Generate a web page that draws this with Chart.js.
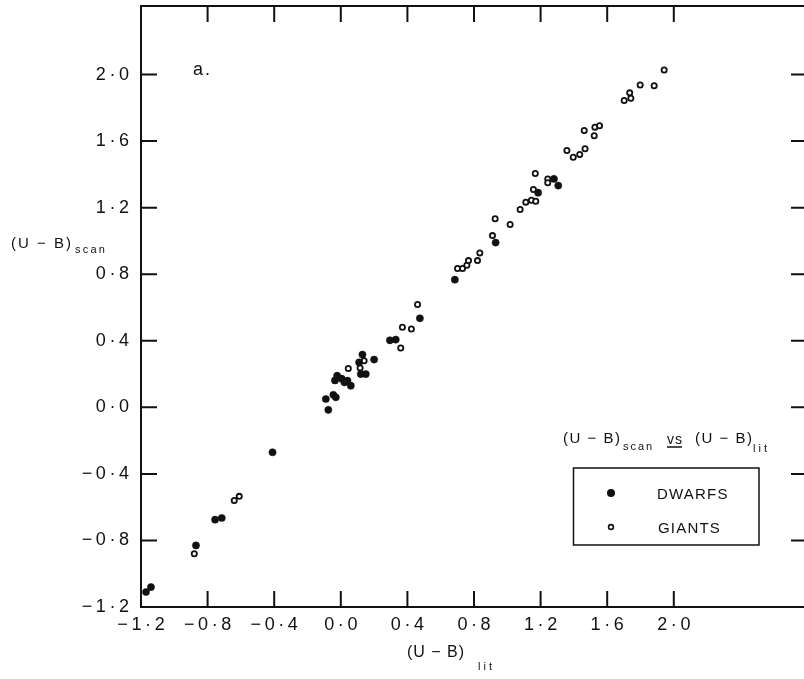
<!DOCTYPE html>
<html>
<head>
<meta charset="utf-8">
<script src="https://cdn.jsdelivr.net/npm/chart.js@4/dist/chart.umd.min.js"></script>
<style>
html,body{margin:0;padding:0;background:#fff;overflow:hidden;}
#wrap{width:820px;height:679px;}
</style>
</head>
<body>
<div id="wrap"><canvas id="c" width="820" height="679"></canvas></div>
<script>
// ---- data ----
const dwarfsLit  = [-1.17,-1.14,-0.87,-0.755,-0.715,-0.41,-0.09,-0.075,-0.045,-0.03,-0.035,-0.022,0.005,0.022,0.04,0.06,0.11,0.13,0.12,0.15,0.2,0.295,0.33,0.475,0.685,0.93,1.185,1.28,1.306];
const dwarfsScan = [-1.11,-1.08,-0.83,-0.675,-0.665,-0.27,0.05,-0.015,0.075,0.06,0.162,0.19,0.172,0.15,0.16,0.13,0.27,0.317,0.2,0.2,0.287,0.403,0.407,0.535,0.767,0.99,1.29,1.373,1.333];
const giantsLit  = [-0.88,-0.64,-0.61,0.045,0.116,0.14,0.36,0.37,0.424,0.461,0.701,0.731,0.757,0.767,0.821,0.835,0.911,0.927,1.017,1.077,1.111,1.145,1.171,1.157,1.168,1.243,1.243,1.358,1.396,1.435,1.467,1.462,1.522,1.526,1.554,1.702,1.742,1.735,1.798,1.882,1.942];
const giantsScan = [-0.88,-0.56,-0.535,0.233,0.237,0.28,0.357,0.481,0.471,0.618,0.834,0.834,0.854,0.882,0.882,0.928,1.032,1.133,1.099,1.189,1.233,1.245,1.239,1.309,1.405,1.373,1.35,1.544,1.503,1.52,1.554,1.664,1.632,1.684,1.692,1.844,1.858,1.89,1.937,1.933,2.027];
const xTickValues = [-1.2,-0.8,-0.4,0.0,0.4,0.8,1.2,1.6,2.0];
const yTickValues = [-1.2,-0.8,-0.4,0.0,0.4,0.8,1.2,1.6,2.0];
const seriesNames = ['DWARFS','GIANTS'];

const INK = '#111';
const FONT = '"Liberation Sans", Arial, sans-serif';

function fmt(v){
  const s = Math.abs(v).toFixed(1).replace('.', '\u2009\u00b7\u2009');
  return (v < 0 ? '\u2212\u2009' : '') + s;
}
const toPts = (xs, ys) => xs.map((x,i)=>({x:x, y:ys[i]}));

function txt(ctx, s, x, y, size, spacing){
  ctx.font = size + 'px ' + FONT;
  ctx.letterSpacing = (spacing||0) + 'px';
  ctx.fillText(s, x, y);
  const w = ctx.measureText(s).width;
  ctx.letterSpacing = '0px';
  return w;
}

const framePlugin = {
  id: 'frame',
  afterDraw(chart){
    const ctx = chart.ctx, a = chart.chartArea;
    const xs = chart.scales.x, ys = chart.scales.y;
    ctx.save();
    ctx.strokeStyle = INK; ctx.lineWidth = 2; ctx.lineCap = 'butt';
    ctx.strokeRect(a.left, a.top, a.right - a.left, a.bottom - a.top);
    const TL = 16;
    ctx.beginPath();
    xTickValues.forEach(v=>{
      if (v <= xs.min + 1e-9) return;
      const p = xs.getPixelForValue(v);
      ctx.moveTo(p, a.bottom); ctx.lineTo(p, a.bottom - TL);
      ctx.moveTo(p, a.top); ctx.lineTo(p, a.top + TL);
    });
    yTickValues.forEach(v=>{
      if (v <= ys.min + 1e-9) return;
      const p = ys.getPixelForValue(v);
      ctx.moveTo(a.left, p); ctx.lineTo(a.left + TL, p);
      ctx.moveTo(a.right, p); ctx.lineTo(a.right - TL, p);
    });
    ctx.stroke();

    ctx.fillStyle = INK;
    ctx.textBaseline = 'alphabetic'; ctx.textAlign = 'left';
    // axis titles
    txt(ctx, '(U \u2212 B)', 11, 248, 15, 2);
    txt(ctx, 'scan', 75, 253, 11, 2.2);
    txt(ctx, '(U \u2212 B)', 407, 657, 16, 1);
    txt(ctx, 'lit', 478, 670, 11, 3);
    // panel letter
    txt(ctx, 'a.', 193, 75, 18, 2);
    // caption
    txt(ctx, '(U \u2212 B)', 563, 443, 15, 1.5);
    txt(ctx, 'scan', 623, 450, 11, 2);
    txt(ctx, 'vs', 667, 444, 14, 1);
    ctx.lineWidth = 1.5;
    ctx.beginPath(); ctx.moveTo(667, 447); ctx.lineTo(682, 447); ctx.stroke();
    txt(ctx, '(U \u2212 B)', 695, 443, 15, 1.5);
    txt(ctx, 'lit', 753, 452, 11, 3);
    // legend box
    ctx.lineWidth = 1.5;
    ctx.strokeRect(573.5, 468, 185.5, 77);
    ctx.beginPath(); ctx.arc(611, 493, 4, 0, Math.PI*2); ctx.fill();
    ctx.beginPath(); ctx.arc(611, 527, 2.4, 0, Math.PI*2); ctx.lineWidth = 1.6; ctx.stroke();
    txt(ctx, seriesNames[0], 657, 499, 15, 1.2);
    txt(ctx, seriesNames[1], 658, 533, 15, 1.2);
    ctx.restore();
  }
};

new Chart(document.getElementById('c'), {
  type: 'scatter',
  data: {
    datasets: [
      { label: seriesNames[0], data: toPts(dwarfsLit, dwarfsScan),
        pointRadius: 3.6, pointBackgroundColor: INK, pointBorderColor: INK, pointBorderWidth: 0.5, pointHoverRadius: 3.6 },
      { label: seriesNames[1], data: toPts(giantsLit, giantsScan),
        pointRadius: 2.6, pointBackgroundColor: '#fff', pointBorderColor: INK, pointBorderWidth: 1.8, pointHoverRadius: 2.6 }
    ]
  },
  options: {
    responsive: false, animation: false, devicePixelRatio: 1,
    layout: { padding: { top: 6, right: 13, left: 0, bottom: 0 } },
    plugins: { legend: { display: false }, tooltip: { enabled: false } },
    scales: {
      x: {
        type: 'linear', min: -1.2, max: 2.8,
        afterBuildTicks: s => { s.ticks = xTickValues.map(v=>({value:v})); },
        afterFit: s => { s.height = 72; s.paddingLeft = 0; s.paddingRight = 0; },
        grid: { display: false, drawTicks: false },
        border: { display: false },
        ticks: { callback: v => fmt(v), color: INK, padding: 7, maxRotation: 0, autoSkip: false,
                 font: { family: FONT, size: 18 } }
      },
      y: {
        type: 'linear', min: -1.2, max: 2.412,
        afterBuildTicks: s => { s.ticks = yTickValues.map(v=>({value:v})); },
        afterFit: s => { s.width = 141; s.paddingTop = 0; s.paddingBottom = 0; },
        grid: { display: false, drawTicks: false },
        border: { display: false },
        ticks: { callback: v => fmt(v), color: INK, padding: 12, autoSkip: false,
                 font: { family: FONT, size: 18 } }
      }
    }
  },
  plugins: [framePlugin]
});
</script>
</body>
</html>
